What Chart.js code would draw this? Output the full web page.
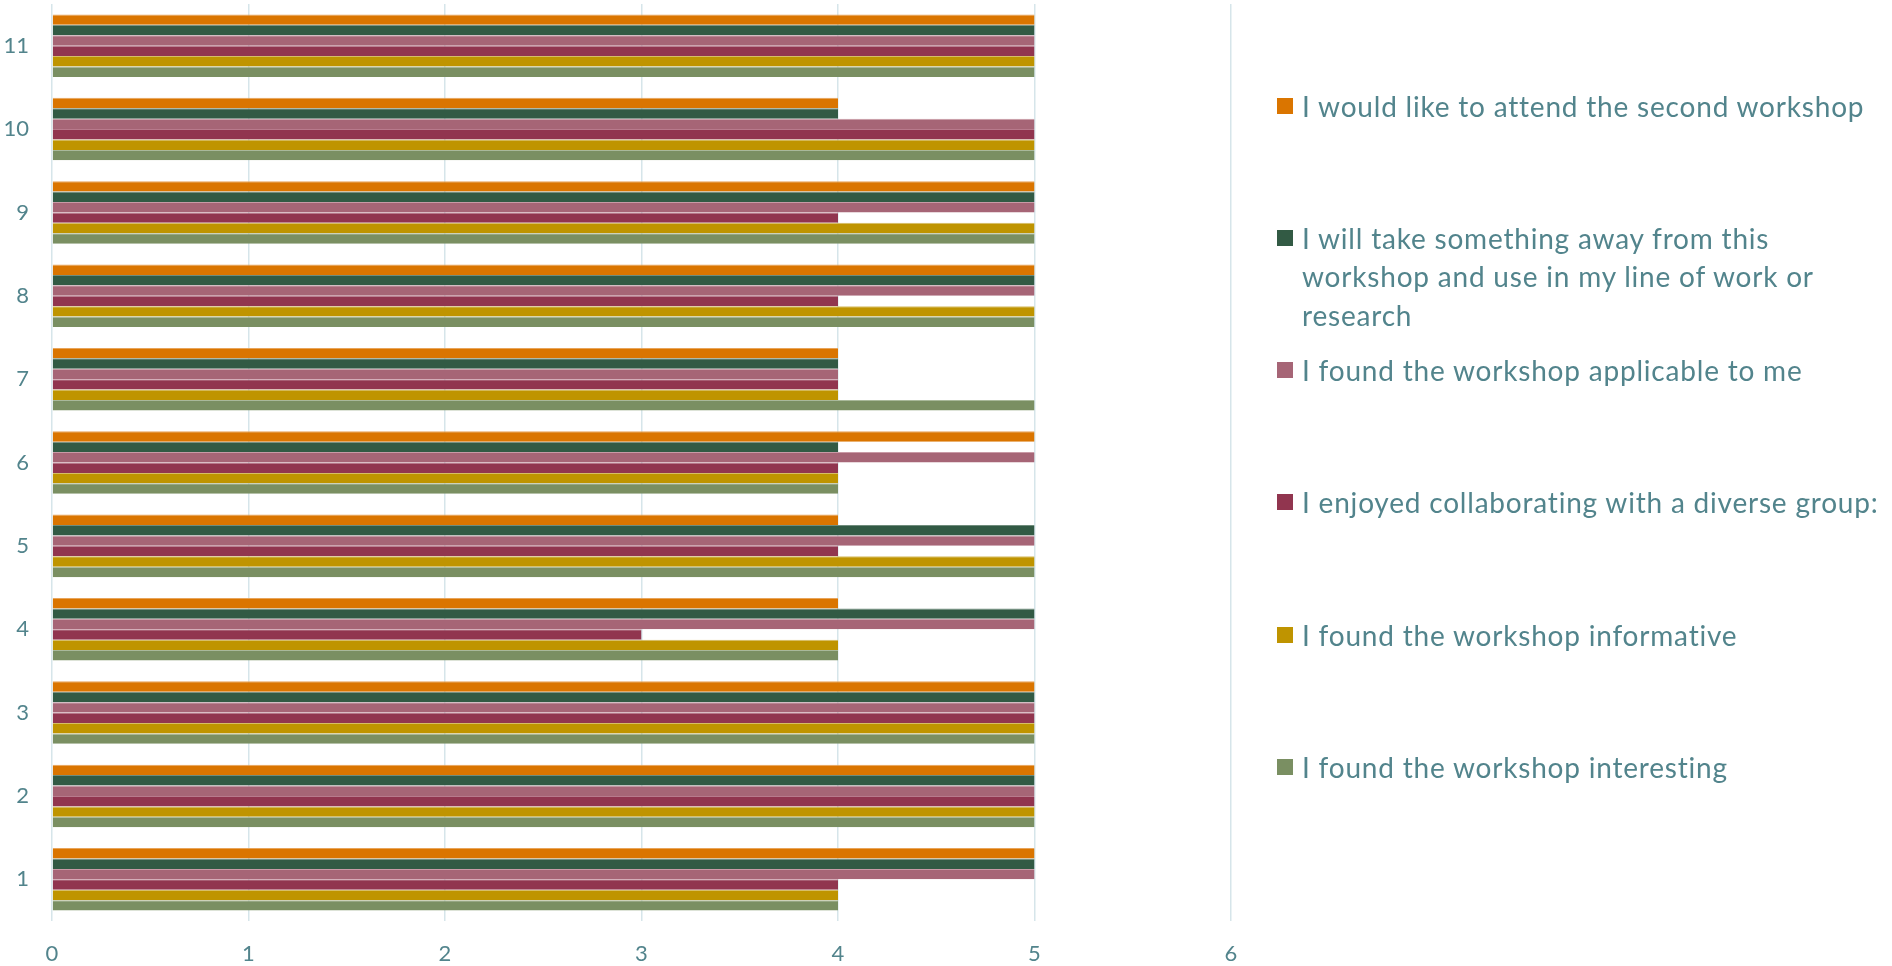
<!DOCTYPE html>
<html>
<head>
<meta charset="utf-8">
<script src="https://cdn.jsdelivr.net/npm/chart.js@4.4.1/dist/chart.umd.min.js"></script>
<style>
  html, body { margin: 0; padding: 0; background: #fff; }
  #wrap { position: relative; width: 1892px; height: 966px; overflow: hidden; }
  #chart { position: absolute; left: 0; top: 0; }
  #legend { position: absolute; left: 0; top: 0; font-family: Lato, sans-serif; font-size: 28px; letter-spacing: 0.8px; color: #52848c; }
  .item { position: absolute; left: 1277px; line-height: 38.6px; }
  .box { position: absolute; left: 0; top: 11px; width: 16px; height: 16px; }
  .txt { position: absolute; left: 25px; white-space: pre; }
</style>
</head>
<body>
<div id="wrap">
  <canvas id="chart" width="1892" height="966"></canvas>
  <div id="legend"></div>
</div>
<script>
// categories 1..11 (drawn bottom to top)
const categories = ['1', '2', '3', '4', '5', '6', '7', '8', '9', '10', '11'];
const xTicks = [0, 1, 2, 3, 4, 5, 6];

const seriesNames = [
  'I would like to attend the second workshop',
  'I will take something away from this\nworkshop and use in my line of work or\nresearch',
  'I found the workshop applicable to me',
  'I enjoyed collaborating with a diverse group:',
  'I found the workshop informative',
  'I found the workshop interesting'
];
const seriesColors = ['#da7500', '#325a44', '#a66576', '#91354f', '#bf9400', '#7a8f62'];
const edgeColors   = ['#e8a45a', '#6f8c7c', '#c99aa6', '#b87a8c', '#d6bd66', '#a9b99a'];

// values per category 1..11
const attendSecond = [5, 5, 5, 4, 4, 5, 4, 5, 5, 4, 5];
const takeAway     = [5, 5, 5, 5, 5, 4, 4, 5, 5, 4, 5];
const applicable   = [5, 5, 5, 5, 5, 5, 4, 5, 5, 5, 5];
const collaborated = [4, 5, 5, 3, 4, 4, 4, 4, 4, 5, 5];
const informative  = [4, 5, 5, 4, 5, 4, 4, 5, 5, 5, 5];
const interesting  = [4, 5, 5, 4, 5, 4, 5, 5, 5, 5, 5];

const seriesValues = [attendSecond, takeAway, applicable, collaborated, informative, interesting];

const textColor = '#52848c';
const tickFont = { family: 'Lato, sans-serif', size: 22 };

const datasets = seriesNames.map((name, i) => ({
  label: name.replace(/\n/g, ' '),
  data: seriesValues[i],
  backgroundColor: seriesColors[i],
  borderColor: edgeColors[i],
  borderWidth: { top: 1, right: 0, bottom: 0, left: 0 },
  borderSkipped: false
}));

new Chart(document.getElementById('chart'), {
  type: 'bar',
  data: { labels: categories, datasets: datasets },
  options: {
    indexAxis: 'y',
    responsive: false,
    animation: false,
    layout: { padding: { top: 4, right: 661, left: 0, bottom: 0 } },
    datasets: { bar: { categoryPercentage: 0.75, barPercentage: 1 } },
    plugins: { legend: { display: false }, tooltip: { enabled: false } },
    scales: {
      x: {
        min: xTicks[0],
        max: xTicks[xTicks.length - 1],
        afterBuildTicks: (s) => { s.ticks = xTicks.map(v => ({ value: v })); },
        ticks: { padding: 20, color: textColor, font: tickFont },
        grid: { color: '#d6e5ea', lineWidth: 1.5, drawTicks: false },
        border: { display: false },
        afterFit: (s) => { s.height = 45; s.paddingLeft = 0; s.paddingRight = 0; }
      },
      y: {
        reverse: true,
        ticks: { padding: 23, color: textColor, font: tickFont },
        grid: { display: false, drawTicks: false },
        border: { display: false },
        afterFit: (s) => { s.width = 52; s.paddingTop = 0; s.paddingBottom = 0; }
      }
    }
  }
});

// legend on the right, built from the same series arrays
const legend = document.getElementById('legend');
seriesNames.forEach((name, i) => {
  const item = document.createElement('div');
  item.className = 'item';
  item.style.top = (86.7 + 132.2 * i) + 'px';
  const box = document.createElement('div');
  box.className = 'box';
  box.style.background = seriesColors[i];
  const txt = document.createElement('div');
  txt.className = 'txt';
  txt.textContent = name;
  item.appendChild(box);
  item.appendChild(txt);
  legend.appendChild(item);
});
</script>
</body>
</html>
